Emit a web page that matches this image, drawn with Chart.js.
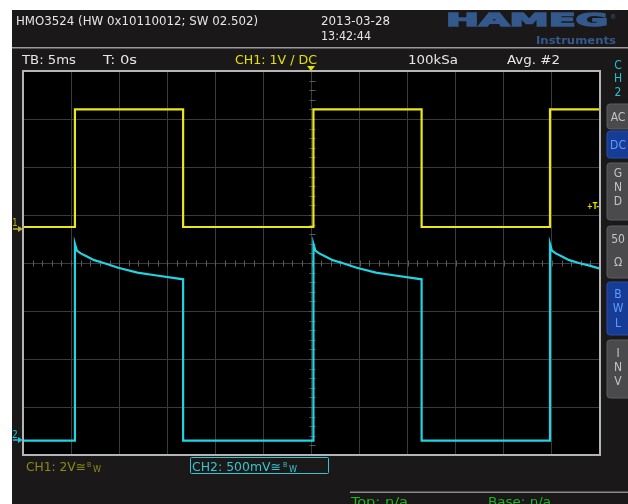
<!DOCTYPE html>
<html>
<head>
<meta charset="utf-8">
<script src="https://cdn.jsdelivr.net/npm/chart.js@4.4.1/dist/chart.umd.min.js"></script>
<style>
  html, body { margin: 0; padding: 0; background: #ffffff; width: 628px; height: 504px; overflow: hidden; }
  #scope { position: absolute; left: 12px; top: 10px; width: 616px; height: 494px; background: #1b181a; }
  #scopeCanvas { position: absolute; left: 0; top: 0; }
  #overlay { position: absolute; left: 0; top: 0; }
  #overlay text { font-family: "DejaVu Sans Condensed", "DejaVu Sans", sans-serif; }
</style>
</head>
<body>
<div id="scope"></div>
<canvas id="scopeCanvas" width="628" height="504"></canvas>
<svg id="overlay" width="628" height="504" xmlns="http://www.w3.org/2000/svg">
  <!-- header -->
  <text x="16" y="25" font-size="13" fill="#e6e6e6" textLength="242" lengthAdjust="spacingAndGlyphs">HMO3524 (HW 0x10110012; SW 02.502)</text>
  <text x="321" y="25" font-size="13" fill="#e6e6e6" textLength="69" lengthAdjust="spacingAndGlyphs">2013-03-28</text>
  <text x="321" y="40" font-size="13" fill="#e6e6e6" textLength="50" lengthAdjust="spacingAndGlyphs">13:42:44</text>
  <text x="446" y="26" font-size="18" font-weight="bold" fill="#34598c" stroke="#34598c" stroke-width="1.4" textLength="162" lengthAdjust="spacingAndGlyphs" style="font-family:'DejaVu Sans',sans-serif">HAMEG</text>
  <text x="610" y="19" font-size="7" fill="#34598c">®</text>
  <text x="536" y="44" font-size="11" font-weight="bold" fill="#34598c" textLength="80" lengthAdjust="spacingAndGlyphs" style="font-family:'DejaVu Sans',sans-serif">Instruments</text>
  <rect x="12" y="47" width="616" height="1.5" fill="#9a9a9a"/>

  <!-- acquisition row -->
  <text x="22" y="64" font-size="12.5" fill="#e6e6e6" textLength="54" lengthAdjust="spacingAndGlyphs">TB: 5ms</text>
  <text x="103" y="64" font-size="12.5" fill="#e6e6e6" textLength="34" lengthAdjust="spacingAndGlyphs">T: 0s</text>
  <text x="235" y="64" font-size="12.5" fill="#e4e000" textLength="82" lengthAdjust="spacingAndGlyphs">CH1: 1V / DC</text>
  <text x="408" y="64" font-size="12.5" fill="#e6e6e6" textLength="50" lengthAdjust="spacingAndGlyphs">100kSa</text>
  <text x="507" y="64" font-size="12.5" fill="#e6e6e6" textLength="53" lengthAdjust="spacingAndGlyphs">Avg. #2</text>
  <polygon points="307,66 315,66 311,71" fill="#e4e000"/>

  <!-- channel side menu -->
  <text x="618" y="69" font-size="12" fill="#1fc3d0" text-anchor="middle">C</text>
  <text x="618" y="82" font-size="12" fill="#1fc3d0" text-anchor="middle">H</text>
  <text x="618" y="96" font-size="12" fill="#1fc3d0" text-anchor="middle">2</text>

  <rect x="607" y="104" width="26" height="25" rx="3" fill="#4a4a4c" stroke="#5c5c5e"/>
  <text x="618" y="121" font-size="12" fill="#c4c4c4" text-anchor="middle">AC</text>
  <rect x="607" y="131" width="26" height="27" rx="3" fill="#173c95" stroke="#2a4fa8"/>
  <text x="618" y="149" font-size="12" fill="#5e9cff" text-anchor="middle">DC</text>
  <rect x="607" y="163" width="26" height="57" rx="3" fill="#4a4a4c" stroke="#5c5c5e"/>
  <text x="618" y="177" font-size="12" fill="#c4c4c4" text-anchor="middle">G</text>
  <text x="618" y="191" font-size="12" fill="#c4c4c4" text-anchor="middle">N</text>
  <text x="618" y="205" font-size="12" fill="#c4c4c4" text-anchor="middle">D</text>
  <rect x="607" y="226" width="26" height="52" rx="3" fill="#4a4a4c" stroke="#5c5c5e"/>
  <text x="618" y="243" font-size="12" fill="#c4c4c4" text-anchor="middle">50</text>
  <text x="618" y="266" font-size="12" fill="#c4c4c4" text-anchor="middle">Ω</text>
  <rect x="607" y="282" width="26" height="53" rx="3" fill="#173c95" stroke="#2a4fa8"/>
  <text x="618" y="298" font-size="12" fill="#5e9cff" text-anchor="middle">B</text>
  <text x="618" y="312" font-size="12" fill="#5e9cff" text-anchor="middle">W</text>
  <text x="618" y="327" font-size="12" fill="#5e9cff" text-anchor="middle">L</text>
  <rect x="607" y="340" width="26" height="58" rx="3" fill="#4a4a4c" stroke="#5c5c5e"/>
  <text x="618" y="357" font-size="12" fill="#c4c4c4" text-anchor="middle">I</text>
  <text x="618" y="371" font-size="12" fill="#c4c4c4" text-anchor="middle">N</text>
  <text x="618" y="385" font-size="12" fill="#c4c4c4" text-anchor="middle">V</text>

  <!-- channel reference markers -->
  <text x="12" y="226" font-size="10" fill="#b8b42a">1</text>
  <line x1="13" y1="229" x2="19" y2="229" stroke="#b8b42a" stroke-width="1.5"/>
  <polygon points="18,226 23,229 18,232" fill="#b8b42a"/>
  <text x="12" y="438" font-size="10" fill="#1fc3d0">2</text>
  <line x1="13" y1="440" x2="19" y2="440" stroke="#1fc3d0" stroke-width="1.5"/>
  <polygon points="18,437 23,440 18,443" fill="#1fc3d0"/>
  <text x="587" y="209" font-size="9" font-weight="bold" fill="#e4e000" textLength="12" lengthAdjust="spacingAndGlyphs">+T-</text>

  <!-- vertical scale labels -->
  <text x="26" y="471" font-size="12.5" fill="#8c8a16" textLength="60" lengthAdjust="spacingAndGlyphs">CH1: 2V≅</text>
  <text x="87" y="467" font-size="7" fill="#8c8a16">B</text>
  <text x="93" y="472" font-size="9" fill="#8c8a16">W</text>
  <rect x="190.5" y="457.5" width="138" height="16" rx="1" fill="none" stroke="#2ec6cf" stroke-width="1"/>
  <text x="192" y="471" font-size="12.5" fill="#35c6ce" textLength="89" lengthAdjust="spacingAndGlyphs">CH2: 500mV≅</text>
  <text x="283" y="467" font-size="7" fill="#35c6ce">B</text>
  <text x="289" y="472" font-size="9" fill="#35c6ce">W</text>

  <!-- measurement strip -->
  <rect x="350" y="491.5" width="278" height="1.5" fill="#8c8c8c"/>
  <text x="351" y="506" font-size="13" fill="#1fb51f" textLength="57" lengthAdjust="spacingAndGlyphs">Top: n/a</text>
  <text x="488" y="506" font-size="13" fill="#1fb51f" textLength="63" lengthAdjust="spacingAndGlyphs">Base: n/a</text>
</svg>
<script>
// Time base: 5 ms/div, trigger at 0 s, 12 divisions
const timeMin = -30, timeMax = 30, timeStep = 5;
// Vertical grid: 8 divisions
const divMin = -4, divMax = 4;
// CH1 2 V/div, CH2 500 mV/div (ranges place each channel's 0 V on its marker)
const ch1Min = -9.5, ch1Max = 6.5;
const ch2Min = -0.15, ch2Max = 3.85;

// CH1: square drive signal (ms, V)
const ch1Time = [-30, -24.6, -24.6, -13.35, -13.35, 0.2, 0.2, 11.45, 11.45, 24.8, 24.8, 30];
const ch1Volt = [0, 0, 4.9, 4.9, 0, 0, 4.9, 4.9, 0, 0, 4.9, 4.9];

// CH2: response with decaying plateau (ms, V)
const ch2Time = [
  -30, -24.6,
  -24.6, -24.4, -24.0, -23.4, -22.6, -21.6, -20.1, -18.1, -16.1, -13.35,
  -13.35, 0.2,
  0.2, 0.4, 0.8, 1.4, 2.2, 3.2, 4.7, 6.7, 8.7, 11.45,
  11.45, 24.8,
  24.8, 25.0, 25.4, 26.0, 26.8, 27.8, 29.0, 30
];
const ch2Volt = [
  0, 0,
  2.05, 1.98, 1.95, 1.92, 1.88, 1.85, 1.80, 1.75, 1.72, 1.68,
  0, 0,
  2.05, 1.98, 1.95, 1.92, 1.88, 1.85, 1.80, 1.75, 1.72, 1.68,
  0, 0,
  2.05, 1.98, 1.95, 1.92, 1.88, 1.85, 1.82, 1.79
];

const toPoints = (xs, ys) => xs.map((x, i) => ({ x: x, y: ys[i] }));

// Black screen, center-axis minor ticks and outer frame
const screenPlugin = {
  id: 'screen',
  beforeDraw(chart) {
    const { ctx, chartArea: a } = chart;
    ctx.save();
    ctx.fillStyle = '#000000';
    ctx.fillRect(a.left, a.top, a.right - a.left, a.bottom - a.top);
    ctx.restore();
  },
  beforeDatasetsDraw(chart) {
    const { ctx } = chart;
    const xs = chart.scales.x, ys = chart.scales.yGrid;
    const cx = Math.round(xs.getPixelForValue(0)) + 0.5;
    const cy = Math.round(ys.getPixelForValue(0)) + 0.5;
    ctx.save();
    ctx.strokeStyle = '#5a5a5a';
    ctx.lineWidth = 1;
    ctx.beginPath();
    for (let t = timeMin; t <= timeMax; t += 1) {
      const px = Math.round(xs.getPixelForValue(t)) + 0.5;
      ctx.moveTo(px, cy - 3); ctx.lineTo(px, cy + 3);
    }
    for (let d = divMin; d <= divMax + 1e-9; d += 0.2) {
      const py = Math.round(ys.getPixelForValue(d)) + 0.5;
      ctx.moveTo(cx - 3, py); ctx.lineTo(cx + 3, py);
    }
    ctx.stroke();
    ctx.restore();
  },
  afterDatasetsDraw(chart) {
    const { ctx, chartArea: a } = chart;
    ctx.save();
    ctx.strokeStyle = '#b4b4b4';
    ctx.lineWidth = 2;
    ctx.strokeRect(a.left, a.top, a.right - a.left, a.bottom - a.top);
    ctx.restore();
  }
};

new Chart(document.getElementById('scopeCanvas'), {
  type: 'line',
  data: {
    datasets: [
      {
        label: 'CH2',
        data: toPoints(ch2Time, ch2Volt),
        yAxisID: 'y2',
        borderColor: '#22d3e2',
        borderWidth: 2.2,
        pointRadius: 0,
        tension: 0,
        fill: false
      },
      {
        label: 'CH1',
        data: toPoints(ch1Time, ch1Volt),
        yAxisID: 'y1',
        borderColor: '#eae61a',
        borderWidth: 2.2,
        pointRadius: 0,
        tension: 0,
        fill: false
      }
    ]
  },
  options: {
    responsive: false,
    animation: false,
    devicePixelRatio: 1,
    layout: { padding: { left: 23, top: 71, right: 28, bottom: 49 } },
    plugins: { legend: { display: false }, tooltip: { enabled: false } },
    scales: {
      x: {
        type: 'linear', min: timeMin, max: timeMax,
        ticks: { display: false, stepSize: timeStep },
        grid: { color: '#3a3a3a', lineWidth: 1, drawTicks: false },
        border: { display: false }
      },
      yGrid: {
        type: 'linear', axis: 'y', position: 'left', min: divMin, max: divMax,
        ticks: { display: false, stepSize: 1 },
        grid: { color: '#3a3a3a', lineWidth: 1, drawTicks: false },
        border: { display: false }
      },
      y1: { type: 'linear', axis: 'y', display: false, min: ch1Min, max: ch1Max },
      y2: { type: 'linear', axis: 'y', display: false, min: ch2Min, max: ch2Max }
    }
  },
  plugins: [screenPlugin]
});
</script>
</body>
</html>
